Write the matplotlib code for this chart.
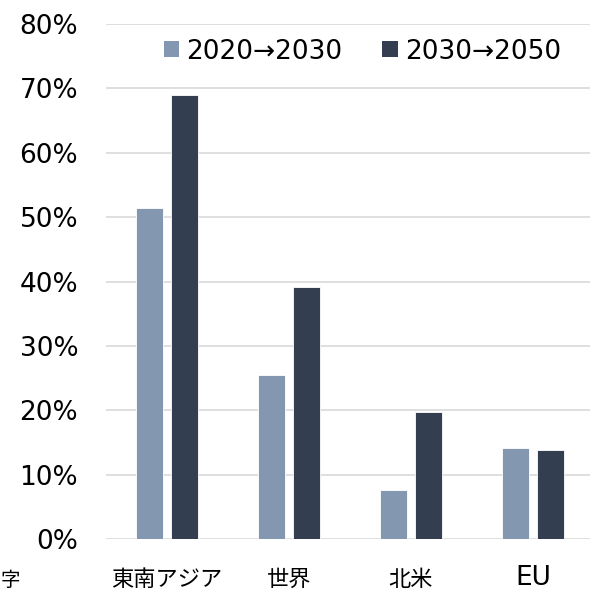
import matplotlib.pyplot as plt
from matplotlib.patches import Patch
import matplotlib.ticker as mticker

# growth rates by region
regions = ["東南アジア", "世界", "北米", "EU"]
growth_2020_2030 = [0.514, 0.255, 0.076, 0.141]
growth_2030_2050 = [0.690, 0.391, 0.197, 0.138]
series_labels = ["2020→2030", "2030→2050"]

LIGHT = "#8497B0"
DARK = "#333F50"
GRID = "#D9D9D9"

fig = plt.figure(figsize=(5.9, 5.92), dpi=100, facecolor="white")
ax = fig.add_axes([106 / 590, 1 - 539 / 592, 488 / 590, 515 / 592])

x = list(range(len(regions)))
w = 0.221
off = 0.143
ax.bar([i - off for i in x], growth_2020_2030, width=w, color=LIGHT,
       edgecolor="white", linewidth=0.6, zorder=3)
ax.bar([i + off for i in x], growth_2030_2050, width=w, color=DARK,
       edgecolor="white", linewidth=0.6, zorder=3)

ax.set_xlim(-0.5, len(regions) - 0.5)
ax.set_ylim(0, 0.8)
ax.yaxis.set_major_locator(mticker.MultipleLocator(0.1))
ax.yaxis.set_major_formatter(mticker.FuncFormatter(lambda v, _: f"{v * 100:.0f}%"))
ax.tick_params(axis="y", length=0, pad=20, labelsize=19, labelcolor="black")
ax.grid(axis="y", color=GRID, linewidth=1.2, zorder=0)
ax.set_axisbelow(True)
for s in ax.spines.values():
    s.set_visible(False)

# category labels: Japanese in CJK font, latin in DejaVu
ax.set_xticks([])
for i, name in enumerate(regions):
    if name.isascii():
        ax.text(i, -0.09, name, ha="center", va="baseline",
                fontsize=19, family="DejaVu Sans",
                transform=ax.get_xaxis_transform())
    else:
        ax.text(i, -0.091, name, ha="center", va="baseline",
                fontsize=16, family=["Noto Sans CJK JP", "DejaVu Sans"],
                transform=ax.get_xaxis_transform())

handles = [Patch(facecolor=LIGHT, edgecolor="none"),
           Patch(facecolor=DARK, edgecolor="none")]
ax.legend(handles, series_labels, loc="center", bbox_to_anchor=(0.5256, 0.9466),
          ncol=2, frameon=False, fontsize=19, handlelength=0.58, handleheight=0.58,
          handletextpad=0.27, columnspacing=1.5, borderpad=0, borderaxespad=0)

# caption glyph at the lower left edge
fig.text(1 / 590, 1 - 586 / 592, "字", ha="left", va="baseline", fontsize=14,
         family=["Noto Sans CJK JP", "DejaVu Sans"])

fig.savefig("out.png", dpi=100, facecolor="white")
